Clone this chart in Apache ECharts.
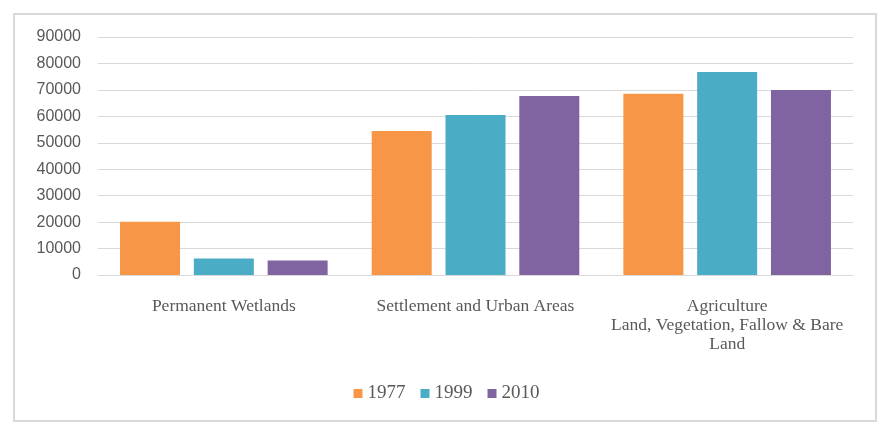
<!DOCTYPE html>
<html>
<head>
<meta charset="utf-8">
<script src="https://cdn.jsdelivr.net/npm/echarts@6/dist/echarts.min.js"></script>
<style>
html,body{margin:0;padding:0;background:#fff;}
#frame{position:absolute;left:13px;top:13px;width:860px;height:405px;border:2px solid #d9d9d9;}
#chart{position:absolute;left:0;top:0;width:893px;height:434px;}
</style>
</head>
<body>
<div id="frame"></div>
<div id="chart"></div>
<script>
var categories = ['Permanent Wetlands', 'Settlement and Urban Areas', 'Agriculture\nLand, Vegetation, Fallow & Bare\nLand'];
var years = ['1977', '1999', '2010'];
var values1977 = [20100, 54500, 68500];
var values1999 = [6200, 60500, 76800];
var values2010 = [5500, 67700, 70000];
var colors = ['#f79646', '#4bacc6', '#8064a2'];

var chart = echarts.init(document.getElementById('chart'));
var seriesData = [values1977, values1999, values2010];
chart.setOption({
  animation: false,
  grid: {left: 98, right: 40, top: 37, bottom: 159},
  legend: {
    data: years,
    bottom: 26,
    left: 'center',
    itemWidth: 9,
    itemHeight: 9,
    itemGap: 15,
    icon: 'rect',
    textStyle: {fontFamily: 'Liberation Serif', fontSize: 19, color: '#595959', padding: [0,0,0,0]}
  },
  xAxis: {
    type: 'category',
    data: categories,
    axisLine: {lineStyle: {color: '#d9d9d9', width: 1}},
    axisTick: {show: false},
    axisLabel: {
      interval: 0,
      margin: 22,
      fontFamily: 'Liberation Serif',
      fontSize: 17.5,
      lineHeight: 19,
      color: '#595959'
    }
  },
  yAxis: {
    type: 'value',
    min: 0,
    max: 90000,
    interval: 10000,
    axisLine: {show: false},
    axisTick: {show: false},
    splitLine: {lineStyle: {color: '#d9d9d9', width: 1}},
    axisLabel: {
      fontFamily: 'Liberation Sans',
      fontSize: 16,
      color: '#595959',
      margin: 17,
      formatter: function (v) { return String(v); }
    }
  },
  series: years.map(function (y, i) {
    return {
      name: y,
      type: 'bar',
      data: seriesData[i],
      barWidth: 60,
      barGap: '23%',
      itemStyle: {color: colors[i]}
    };
  })
});
</script>
</body>
</html>
